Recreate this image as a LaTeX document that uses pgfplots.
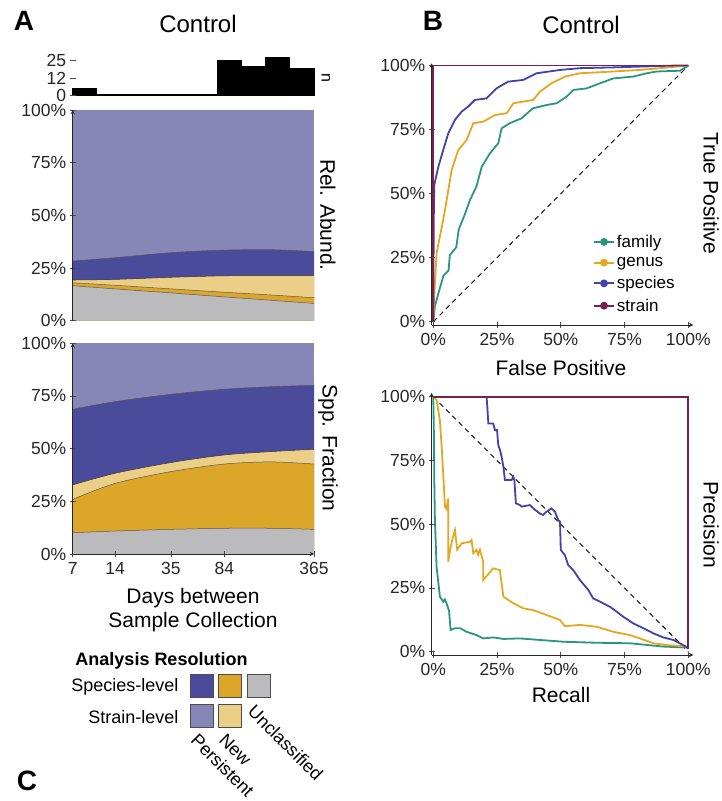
\documentclass[border=0pt]{standalone}
\usepackage{fontspec}
\setmainfont{Liberation Sans}
\usepackage{pgfplots}
\pgfplotsset{compat=1.18}
\definecolor{lb}{RGB}{134,135,182}
\definecolor{db}{RGB}{74,75,155}
\definecolor{dg}{RGB}{220,166,40}
\definecolor{lg}{RGB}{236,207,135}
\definecolor{gr}{RGB}{187,186,189}
\definecolor{cfam}{RGB}{40,150,128}
\definecolor{cgen}{RGB}{228,168,32}
\definecolor{cspe}{RGB}{66,66,170}
\definecolor{cstr}{RGB}{122,32,80}
\pgfplotsset{
 myaxis/.style={scale only axis, anchor=south west,
   /pgf/number format/assume math mode=true,
   tick label style={font=\fontsize{17.5}{19}\selectfont, text=black!85},
   xticklabel style={yshift=-2pt},
   tick align=outside, major tick length=6pt,
   tick style={black!70, line width=0.8pt},
   axis line style={black!85, line width=0.9pt, -},
   axis on top},
 pct/.style={ytick={0,25,50,75,100}, yticklabels={0\%,25\%,50\%,75\%,100\%}},
 fr/.style={xtick={0,0.25,0.5,0.75,1}, xticklabels={0\%,25\%,50\%,75\%,100\%},
   ytick={0,0.25,0.5,0.75,1}, yticklabels={0\%,25\%,50\%,75\%,100\%}},
 bnd/.style={black!65, line width=0.5pt, smooth},
 curve/.style={line width=1.8pt},
}
\begin{document}
\begin{tikzpicture}[x=1pt,y=1pt]
\path[use as bounding box] (0pt,0pt) rectangle (722pt,801pt);

% ---------- Panel A: histogram ----------
\begin{axis}[myaxis, at={(72.7pt,706pt)}, width=241.3pt, height=37pt,
  xmin=0, xmax=10, ymin=0, ymax=27, xtick=\empty, ytick={0,12,25},
  axis x line=none, axis y line=left, y axis line style={draw=none}, clip=false]
\addplot[ybar interval, fill=black, draw=black, line width=1.2pt] coordinates
 {(0,5)(1,0)(2,0)(3,0)(4,0)(5,0)(6,25)(7,21)(8,27)(9,19)(10,19)};
\end{axis}

% ---------- Panel A: Rel. Abund. ----------
\begin{axis}[myaxis, pct, at={(72.7pt,480.3pt)}, width=241.3pt, height=210.7pt,
  xmode=log, xmin=7, xmax=365, ymin=0, ymax=100, xtick=\empty,
  axis x line=none, axis y line=left]
\addplot[fill=lb, draw=none] coordinates {(7,100)(365,100)} \closedcycle;
\addplot[fill=db, draw=none, smooth] coordinates {(7,28.3)(14,29.9)(35,32.3)(84,33.5)(180,33.7)(365,32.8)} \closedcycle;
\addplot[fill=lg, draw=none, smooth] coordinates {(7,19.3)(14,19.6)(35,20.6)(84,21.3)(180,21.4)(365,21.4)} \closedcycle;
\addplot[fill=dg, draw=none, smooth] coordinates {(7,18)(14,16.8)(35,15.1)(84,13.5)(180,12.2)(365,10.9)} \closedcycle;
\addplot[fill=gr, draw=none, smooth] coordinates {(7,16.6)(14,15.1)(35,13.2)(84,11.3)(180,9.7)(365,8.2)} \closedcycle;
\addplot[bnd] coordinates {(7,28.3)(14,29.9)(35,32.3)(84,33.5)(180,33.7)(365,32.8)};
\addplot[bnd, black!80] coordinates {(7,19.3)(14,19.6)(35,20.6)(84,21.3)(180,21.4)(365,21.4)};
\addplot[bnd] coordinates {(7,18)(14,16.8)(35,15.1)(84,13.5)(180,12.2)(365,10.9)};
\addplot[bnd] coordinates {(7,16.6)(14,15.1)(35,13.2)(84,11.3)(180,9.7)(365,8.2)};
\end{axis}

% ---------- Panel A: Spp. Fraction ----------
\begin{axis}[myaxis, pct, at={(72.7pt,247pt)}, width=241.3pt, height=210.7pt,
  xmode=log, xmin=7, xmax=365, ymin=0, ymax=100,
  xtick={7,14,35,84,365}, xticklabels={7,14,35,84,365}, minor xtick={},
  axis x line=bottom, axis y line=left]
\addplot[fill=lb, draw=none] coordinates {(7,100)(365,100)} \closedcycle;
\addplot[fill=db, draw=none, smooth] coordinates {(7,68.7)(14,72.3)(35,75.8)(84,78.2)(180,79.4)(365,80.1)} \closedcycle;
\addplot[fill=lg, draw=none, smooth] coordinates {(7,32.8)(14,38.3)(35,43.4)(84,47)(180,48.6)(365,49.7)} \closedcycle;
\addplot[fill=dg, draw=none, smooth] coordinates {(7,25.9)(14,33.5)(35,39.1)(84,42.7)(180,43.7)(365,42.7)} \closedcycle;
\addplot[fill=gr, draw=none, smooth] coordinates {(7,10.1)(14,10.9)(35,11.7)(84,12.2)(180,12.2)(365,11.7)} \closedcycle;
\addplot[bnd] coordinates {(7,68.7)(14,72.3)(35,75.8)(84,78.2)(180,79.4)(365,80.1)};
\addplot[bnd, black!80] coordinates {(7,32.8)(14,38.3)(35,43.4)(84,47)(180,48.6)(365,49.7)};
\addplot[bnd] coordinates {(7,25.9)(14,33.5)(35,39.1)(84,42.7)(180,43.7)(365,42.7)};
\addplot[bnd] coordinates {(7,10.1)(14,10.9)(35,11.7)(84,12.2)(180,12.2)(365,11.7)};
\end{axis}

% ---------- Panel B: ROC ----------
\begin{axis}[myaxis, fr, at={(431.6pt,476pt)}, width=261.7pt, height=261.7pt,
  xmin=-0.0065, xmax=1.0196, ymin=-0.013, ymax=1.009,
  axis x line=bottom, axis y line=left, clip=false,
  legend style={at={(0.605,0.36)}, anchor=north west, draw=none, fill=none,
    font=\fontsize{17}{18}\selectfont, row sep=4.5pt, cells={anchor=west}},
  legend image code/.code={\draw[#1] (0pt,0pt) -- (20pt,0pt); \fill[#1] (10pt,0pt) circle (3pt);}]
\addplot[forget plot, black, line width=0.9pt, dash pattern=on 5pt off 4pt] coordinates {(0,0)(1,1)};
\addplot[curve, cfam] coordinates {(0,0)(0.0065,0.06)(0.02,0.11)(0.04,0.18)(0.06,0.2)(0.065,0.26)(0.09,0.29)(0.1,0.36)(0.124,0.42)(0.144,0.475)(0.17,0.53)(0.19,0.605)(0.222,0.657)(0.255,0.697)(0.268,0.755)(0.30,0.775)(0.346,0.794)(0.39,0.833)(0.444,0.846)(0.484,0.853)(0.523,0.879)(0.55,0.905)(0.601,0.911)(0.654,0.931)(0.706,0.95)(0.784,0.957)(0.837,0.97)(0.876,0.977)(0.967,0.98)(1,1)};
\addlegendentry{family}
\addplot[curve, cgen] coordinates {(0,0)(0.003,0.08)(0.0065,0.15)(0.013,0.267)(0.026,0.332)(0.046,0.436)(0.059,0.514)(0.072,0.592)(0.098,0.67)(0.131,0.71)(0.157,0.775)(0.196,0.781)(0.242,0.807)(0.288,0.814)(0.314,0.853)(0.392,0.866)(0.418,0.898)(0.464,0.931)(0.516,0.957)(0.575,0.97)(0.706,0.977)(0.81,0.983)(0.889,0.99)(1,1)};
\addlegendentry{genus}
\addplot[curve, cspe] coordinates {(0,0)(0.002,0.4)(0.004,0.534)(0.02,0.605)(0.039,0.67)(0.059,0.736)(0.085,0.788)(0.111,0.82)(0.137,0.84)(0.163,0.866)(0.209,0.872)(0.248,0.911)(0.294,0.9375)(0.353,0.944)(0.405,0.97)(0.497,0.983)(0.575,0.99)(0.706,0.993)(0.94,1)(1,1)};
\addlegendentry{species}
\addplot[curve, cstr] coordinates {(0,0)(0,1)(1,1)};
\addlegendentry{strain}
\end{axis}

% ---------- Panel B: Precision-Recall ----------
\begin{axis}[myaxis, fr, at={(431.6pt,146pt)}, width=261.7pt, height=262.1pt,
  xmin=-0.0065, xmax=1.0196, ymin=-0.013, ymax=1.015,
  axis x line=bottom, axis y line=left, clip=false]
\addplot[black, line width=0.9pt, dash pattern=on 5pt off 4pt] coordinates {(0,1)(1,0)};
\addplot[curve, cfam] coordinates {(0,1)(0.003,0.83)(0.004,0.673)(0.0065,0.516)(0.013,0.333)(0.026,0.216)(0.039,0.196)(0.045,0.205)(0.052,0.19)(0.062,0.16)(0.068,0.085)(0.085,0.092)(0.105,0.092)(0.131,0.078)(0.17,0.065)(0.196,0.052)(0.235,0.056)(0.275,0.05)(0.34,0.052)(0.418,0.046)(0.51,0.039)(0.64,0.035)(0.771,0.033)(0.902,0.02)(1,0.016)};
\addplot[curve, cgen] coordinates {(0,1)(0.013,0.987)(0.026,0.908)(0.033,0.804)(0.039,0.699)(0.046,0.569)(0.052,0.56)(0.059,0.601)(0.059,0.353)(0.066,0.40)(0.075,0.44)(0.085,0.477)(0.094,0.40)(0.111,0.425)(0.144,0.431)(0.15,0.438)(0.157,0.386)(0.17,0.4)(0.176,0.38)(0.183,0.4)(0.196,0.353)(0.196,0.281)(0.235,0.327)(0.261,0.32)(0.275,0.216)(0.314,0.19)(0.353,0.17)(0.392,0.163)(0.444,0.144)(0.497,0.124)(0.516,0.1)(0.575,0.105)(0.64,0.098)(0.706,0.078)(0.771,0.065)(0.81,0.052)(0.863,0.033)(0.915,0.026)(1,0.02)};
\addplot[curve, cspe] coordinates {(0.209,1)(0.212,0.96)(0.216,0.895)(0.235,0.895)(0.242,0.869)(0.25,0.869)(0.255,0.81)(0.262,0.79)(0.268,0.765)(0.275,0.725)(0.281,0.673)(0.307,0.673)(0.314,0.686)(0.318,0.673)(0.324,0.582)(0.34,0.575)(0.346,0.569)(0.379,0.575)(0.392,0.562)(0.418,0.542)(0.431,0.536)(0.444,0.549)(0.464,0.562)(0.477,0.549)(0.49,0.516)(0.497,0.51)(0.5,0.399)(0.516,0.379)(0.529,0.34)(0.549,0.32)(0.575,0.281)(0.608,0.242)(0.627,0.209)(0.654,0.196)(0.693,0.176)(0.719,0.157)(0.745,0.137)(0.784,0.111)(0.824,0.092)(0.863,0.072)(0.902,0.056)(0.941,0.046)(0.98,0.026)(1,0.013)};
\addplot[curve, cstr] coordinates {(0,1)(1,1)(1,0.01)};
\end{axis}

% ---------- labels ----------
\node[font=\fontsize{28}{30}\selectfont\bfseries] at (24pt,780pt) {A};
\node[font=\fontsize{28}{30}\selectfont\bfseries] at (433pt,780pt) {B};
\node[font=\fontsize{28}{30}\selectfont\bfseries] at (27pt,20pt) {C};
\node[font=\fontsize{24}{28}\selectfont] at (198pt,777pt) {Control};
\node[font=\fontsize{24}{28}\selectfont] at (581pt,776pt) {Control};
\node[font=\fontsize{16}{18}\selectfont, rotate=-90] at (326pt,723pt) {n};
\node[font=\fontsize{21}{24}\selectfont, rotate=-90] at (328pt,586pt) {Rel. Abund.};
\node[font=\fontsize{21}{24}\selectfont, rotate=-90] at (328pt,353pt) {Spp. Fraction};
\node[font=\fontsize{21}{24}\selectfont, align=center] at (193pt,191pt) {Days between\\Sample Collection};
\node[font=\fontsize{21}{24}\selectfont] at (561pt,433pt) {False Positive};
\node[font=\fontsize{21}{24}\selectfont] at (561pt,106pt) {Recall};
\node[font=\fontsize{21}{24}\selectfont, rotate=-90] at (711pt,608pt) {True Positive};
\node[font=\fontsize{21}{24}\selectfont, rotate=-90] at (711pt,276pt) {Precision};

% ---------- legend C ----------
\node[font=\fontsize{18}{20}\selectfont\bfseries] at (161.5pt,140pt) {Analysis Resolution};
\node[font=\fontsize{18}{20}\selectfont, anchor=east] at (182pt,114pt) {Species-level};
\node[font=\fontsize{18}{20}\selectfont, anchor=east] at (182pt,84pt) {Strain-level};
\draw[black!70, line width=1pt, fill=db] (190pt,103pt) rectangle (213pt,126pt);
\draw[black!70, line width=1pt, fill=dg] (218pt,103pt) rectangle (241pt,126pt);
\draw[black!70, line width=1pt, fill=gr] (247pt,103pt) rectangle (270pt,126pt);
\draw[black!70, line width=1pt, fill=lb] (190pt,73pt) rectangle (213pt,96pt);
\draw[black!70, line width=1pt, fill=lg] (218pt,73pt) rectangle (241pt,96pt);
\node[font=\fontsize{18}{20}\selectfont, rotate=-45, anchor=north west, inner sep=1pt] at (199pt,70pt) {Persistent};
\node[font=\fontsize{18}{20}\selectfont, rotate=-45, anchor=north west, inner sep=1pt] at (227pt,70pt) {New};
\node[font=\fontsize{18}{20}\selectfont, rotate=-45, anchor=north west, inner sep=1pt] at (256pt,99pt) {Unclassified};
\end{tikzpicture}
\end{document}
